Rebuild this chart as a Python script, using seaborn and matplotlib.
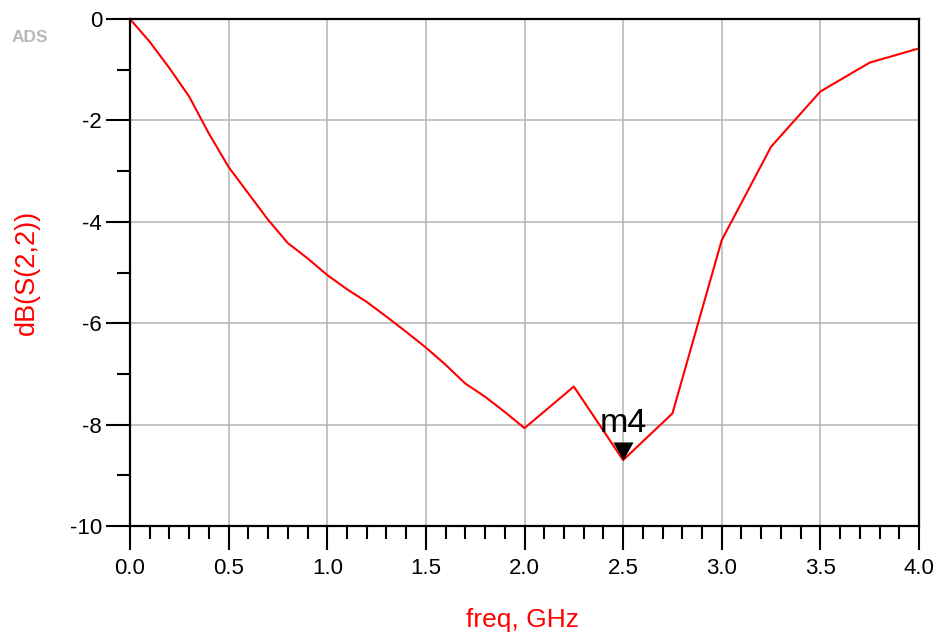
import numpy as np
import pandas as pd
import matplotlib
matplotlib.use("Agg")
import matplotlib.pyplot as plt
from matplotlib.path import Path
import seaborn as sns

# S22 return loss sweep
freq_ghz = [0.0, 0.1, 0.2, 0.3, 0.4, 0.5, 0.6, 0.7, 0.8, 0.9, 1.0,
            1.1, 1.2, 1.3, 1.4, 1.5, 1.6, 1.7, 1.8, 1.9, 2.0,
            2.25, 2.5, 2.75, 3.0, 3.25, 3.5, 3.75, 4.0]
s22_db = [0.0, -0.45, -0.97, -1.53, -2.26, -2.92, -3.44, -3.96, -4.42, -4.72, -5.05,
          -5.33, -5.58, -5.87, -6.17, -6.48, -6.82, -7.19, -7.45, -7.75, -8.07,
          -7.25, -8.70, -7.78, -4.36, -2.52, -1.43, -0.86, -0.58]

marker_name = "m4"
marker_freq = 2.5
marker_db = -8.70

x_ticks = [0.0, 0.5, 1.0, 1.5, 2.0, 2.5, 3.0, 3.5, 4.0]
y_ticks = [0, -2, -4, -6, -8, -10]

df = pd.DataFrame({"freq": freq_ghz, "dB": s22_db})

sns.set_style("white")
plt.rcParams["font.family"] = ["Liberation Sans", "DejaVu Sans"]
plt.rcParams["axes.unicode_minus"] = False

fig = plt.figure(figsize=(9.40, 6.41), dpi=100)
ax = fig.add_axes([130 / 940, 1 - 526 / 641, 789 / 940, 507 / 641])

sns.lineplot(data=df, x="freq", y="dB", ax=ax, color="#ff0000", linewidth=1.5,
             estimator=None, sort=False, legend=False)

# marker: downward triangle with its tip on the data point
tri = Path([(-1.0, 1.8), (1.0, 1.8), (0.0, 0.0), (-1.0, 1.8)],
           [Path.MOVETO, Path.LINETO, Path.LINETO, Path.CLOSEPOLY])
ax.plot([marker_freq], [marker_db], linestyle="none", marker=tri,
        markersize=26, color="black", markeredgewidth=0, zorder=5)
ax.annotate(marker_name, xy=(marker_freq, marker_db), xytext=(0, 20),
            textcoords="offset points", ha="center", va="baseline",
            fontsize=24.5, color="black", zorder=6)

ax.set_xlim(0, 4)
ax.set_ylim(-10, 0)
ax.set_xticks(x_ticks)
ax.set_xticklabels([f"{v:.1f}" for v in x_ticks])
ax.set_yticks(y_ticks)
ax.set_yticklabels([str(v) for v in y_ticks])
ax.set_xticks(np.arange(0, 4.0001, 0.1), minor=True)
ax.set_yticks([-1, -3, -5, -7, -9], minor=True)

ax.grid(True, which="major", color="#b4b4b4", linewidth=1.1)
ax.set_axisbelow(True)
for s in ax.spines.values():
    s.set_color("black")
    s.set_linewidth(1.6)
    s.set_visible(True)

ax.tick_params(axis="both", which="both", bottom=True, left=True,
               top=False, right=False)
ax.tick_params(axis="both", which="major", direction="out", length=17,
               width=1.5, color="black", labelsize=16, labelcolor="black")
ax.tick_params(axis="both", which="minor", direction="out", length=9.5,
               width=1.5, color="black")
ax.tick_params(axis="x", which="major", pad=6)
ax.tick_params(axis="y", which="major", pad=3)

ax.set_xlabel("freq, GHz", color="#ff0000", fontsize=19)
ax.set_ylabel("dB(S(2,2))", color="#ff0000", fontsize=19.5)
ax.xaxis.set_label_coords(0.497, -0.162)
ax.yaxis.set_label_coords(-0.114, 0.5)

fig.text(12 / 940, 1 - 38 / 641, "ADS", color="#b8b8b8", fontsize=12.5,
         fontweight="bold", ha="left", va="center")

fig.savefig("out.png", dpi=100)
